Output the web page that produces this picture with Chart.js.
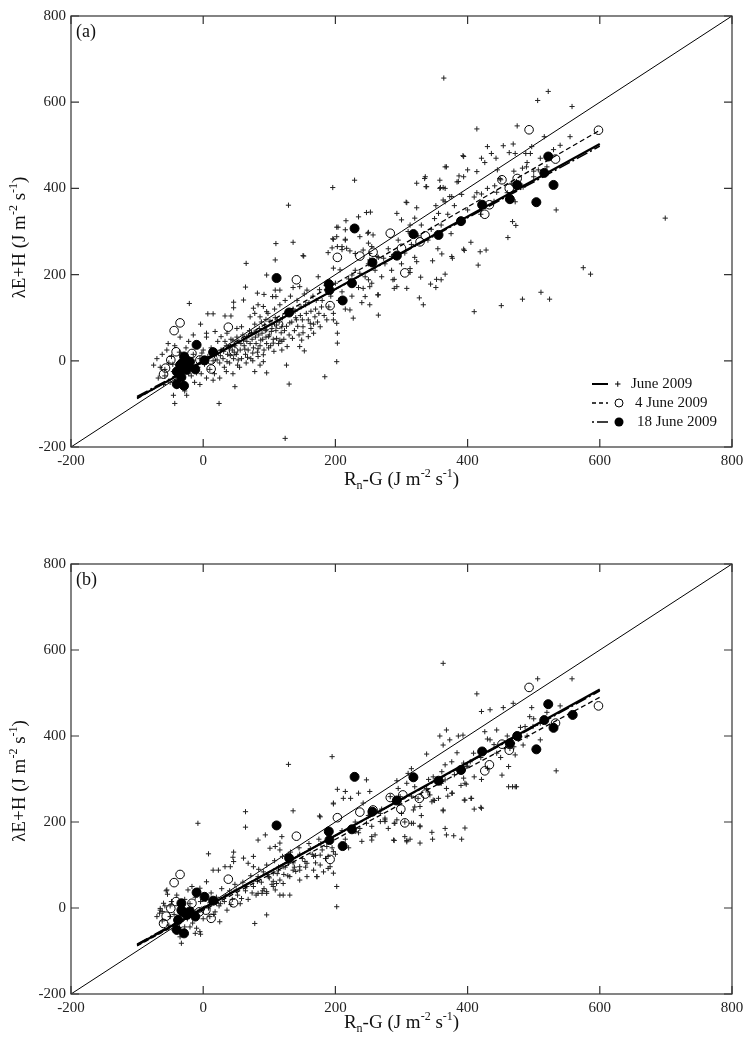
<!DOCTYPE html>
<html>
<head>
<meta charset="utf-8">
<script src="https://cdn.jsdelivr.net/npm/chart.js@4/dist/chart.umd.min.js"></script>
<style>
  body{ margin:0; background:#fff; }
  canvas{ position:absolute; left:0; }
  #cA{ top:0; }
  #cB{ top:520px; }
</style>
</head>
<body>
<canvas id="cA" width="755" height="520"></canvas>
<canvas id="cB" width="755" height="528"></canvas>
<script>
(function(){
  const FONT = '"Liberation Serif", "Times New Roman", serif';

  // axis ticks (both axes, both panels)
  const tickValues = [-200, 0, 200, 400, 600, 800];
  const oneToOne = [-200, 800];

  // regression lines: x range and y at the ends
  const fitX = [-100, 600];
  const fitJuneA = [-86, 503];
  const fit4A = [-88, 535];
  const fit18A = [-83, 498];
  const fitJuneB = [-86, 508];
  const fit4B = [-88, 490];
  const fit18B = [-84, 505];

  // panel (a): half-hourly June 2009 (plus)
  const juneA = [
    [364,656],[506,604],[522,625],[558,590],[414,538],[475,545],[516,520],[497,497],[454,499],[469,503],[430,497],[436,481],[443,470],[463,483],[472,481],[393,476],[421,470],[426,460],[488,481],[495,481],[368,450],[400,443],[414,439],[335,423],[337,404],[358,419],[359,402],[363,402],[387,429],[384,415],[376,381],[363,373],[391,386],[414,390],[421,387],[445,443],[449,423],[441,406],[444,391],[483,447],[489,450],[500,427],[507,443],[467,412],[474,416],[484,403],[472,369],[534,350],[468,323],[473,314],[461,286],[699,331],[419,253],[428,257],[394,259],[376,242],[361,248],
    [575,216],[586,201],[511,159],[524,143],[483,143],[451,128],[410,114],[416,222],[395,256],[405,275],[377,238],[366,201],[360,188],[353,189],[347,232],[344,178],[352,170],[327,146],[333,130],[329,194],[308,168],[289,168],[289,189],[313,214],[323,230],[264,153],[265,106],
    [196,402],[229,419],[129,361],[202,310],[216,325],[235,334],[247,344],[253,345],[197,282],[215,282],[250,298],[110,272],[136,275],[151,244],[189,251],[195,262],[210,258],[222,255],
    [204,310],[215,304],[202,288],[215,280],[210,265],[217,261],[237,288],[249,296],[257,292],[250,273],[255,265],[242,257],[293,342],[300,327],[307,368],[323,355],[320,331],[313,315],[352,360],[356,342],[366,369],[373,381],[386,416],[394,427],[394,474],[366,450],[358,400],[366,400],[336,427],[338,404],[308,367],[323,412],[230,249],[252,249],[263,242],[252,234],[273,238],[285,242],[207,211],[225,199],[237,203],[250,188],[242,168],[252,172],[245,149],[265,153],[252,130],[222,118],[227,99],[293,172],[287,188],[313,205],
    [152,243],[65,226],[109,234],[196,283],[203,265],[96,199],[64,171],[82,157],[92,154],[109,164],[116,164],[105,149],[110,149],[136,170],[157,164],[146,172],[174,195],[197,215],[-21,133],[-4,85],[7,109],[15,109],[46,136],[46,123],[33,104],[42,104],[61,141],[76,122],[83,130],[91,126],[96,114],[71,102],[78,110],[86,102],[95,96],[5,64],[18,68],[27,56],[36,64],[51,75],[58,79],[66,56],[73,64],[81,68],[89,64],[96,72],[104,75],[111,83],[119,79],[99,56],[106,41],[116,48],[119,25],[83,10],[91,-2],[86,-10],[78,-25],[96,-28],[126,-10],[130,-54],[48,-60],[24,-99],[-43,-99],[141,95],[151,79],[162,87],[169,102],[177,79],[187,95],[197,110],[202,87],[149,48],[159,56],[167,64],[146,33],[153,23],[184,-37],[202,-2],[203,41],[203,64],[124,-180],
    [-70,5],[-65,-15],[-62,15],[-58,-35],[-55,25],[-52,-5],[-50,-50],[-48,10],[-45,-25],[-43,35],[-40,-60],[-38,-10],[-36,20],[-33,-40],[-30,5],[-28,-70],[-26,30],[-24,-20],[-22,45],[-20,-5],[-18,-35],[-15,15],[-13,-50],[-10,40],[-8,-15],[-5,5],[-3,-30],[0,25],[2,-8],[5,-40],[7,10],[10,-20],[12,30],[15,0],[17,-30],[20,15],[22,45],[25,-5],[27,25],[30,5],[32,-15],[35,35],[37,15],[40,-5],[42,50],[44,25],[46,5],[48,35],[50,15],[52,-10],[54,45],[56,25],[58,5],[60,60],[62,35],[64,15],[66,45],[68,25],[70,70],[72,5],[74,50],[76,30],[78,85],[80,40],[82,20],[84,60],[86,35],[88,90],[90,50],[92,25],[94,70],[96,40],[98,110],[100,60],[102,35],[104,85],[106,50],[108,120],[110,70],[112,95],[114,40],[116,130],[118,65],[120,100],[122,50],[124,140],[126,80],[128,110],[130,60],[132,150],[134,90],[136,120],[138,70],[140,100],[142,140],[145,60],[148,125],[150,95],[153,155],[156,110],[160,135],[163,75],[166,150],[170,120],[173,90],[176,165],[180,140],[183,105],[186,175],[190,125],[193,150],[197,95],[200,180],[205,140],[210,160],[215,120],[220,190],[225,150],[230,210],[235,170],[240,135],[245,195],[250,225],[255,180],[260,210],[265,240],[270,195],[275,225],[280,260],[285,210],[290,240],[295,280],[300,225],[305,250],[310,300],[315,270],[320,240],[325,290],[330,315],[340,280],[345,305],[350,330],[355,260],[360,315],[370,340],[375,295],[380,360],[390,320],[400,350],[410,380],[420,340],[430,400],[440,370],[450,420],[460,390],[470,440],[480,410],[490,460],[500,440],[510,470],[520,450],[530,490],[540,500],[555,520],[-75,-10],[-68,-40],[-60,-55],[-53,40],[-45,-80],[-35,55],[-25,-80],[-15,60],[-5,-55],[5,55],[15,-45],[25,-40],[35,-25],[45,-30],[55,-15],[65,-5],[75,0],
    [21,2],[26,12],[31,22],[36,-2],[41,12],[47,20],[53,2],[57,40],[63,27],[67,8],[71,40],[75,18],[79,55],[83,28],[87,48],[91,14],[95,55],[99,30],[103,68],[107,22],[111,52],[115,90],[119,45],[123,70],[127,33],[131,88],[135,52],[139,115],[143,80],[147,105],[151,65],[155,130],[159,95],[163,115],[167,85],[171,140],[175,110],[179,125],[33,45],[39,30],[45,48],[51,55],[61,48],[69,58],[77,66],[85,75],[93,83],[101,92],[109,100],[-58,-20],[-46,-8],[-34,-25],[-22,-30],[-10,-28],[-2,18]
  ];
  // panel (a): 4 June 2009 (open circles)
  const open4A = [
    [493,536],[598,535],[533,468],[452,420],[475,423],[463,400],[433,362],[426,340],[283,296],[336,290],[328,276],[300,261],[257,252],[237,243],[203,240],[305,204],[141,188],[192,128],[38,78],[46,23],[12,2],[12,-19],[-35,88],[-44,70],[-41,21],[-49,2],[-57,-17],[-60,-31],[-17,17],[-5,2],[114,85]
  ];
  // panel (a): 18 June 2009 (filled circles)
  const filled18A = [
    [229,307],[318,294],[356,292],[390,324],[422,362],[475,408],[464,375],[504,368],[516,436],[522,474],[530,408],[293,244],[256,228],[225,180],[211,140],[111,192],[130,112],[190,178],[191,164],[-10,37],[15,20],[2,1],[-29,10],[-35,-10],[-25,-21],[-12,-20],[-40,-25],[-20,-2],[-40,-54],[-29,-58],[-32,-5],[-30,-15],[-36,-30],[-22,-12],[-27,3],[-33,-38]
  ];

  // panel (b)
  const juneB = [
    [195,352],[129,334],[-8,197],[64,224],[64,188],[136,226],[203,276],[197,242],[176,214],[8,126],[46,130],[45,118],[46,108],[76,120],[83,158],[94,170],[101,139],[109,143],[116,151],[119,166],[116,135],[15,88],[23,88],[33,96],[41,96],[61,116],[68,104],[76,96],[83,73],[91,84],[99,73],[106,81],[114,88],[121,96],[129,104],[136,88],[146,96],[157,104],[167,120],[177,123],[187,143],[89,34],[96,34],[116,30],[121,30],[111,57],[106,50],[96,-16],[78,-36],[25,-32],[-33,-82],[146,88],[157,73],[172,73],[182,84],[192,96],[197,81],[202,50],[202,3],[177,212],[5,61],[-5,46],[-17,50],[-23,42],[-55,42],[-60,11],[-65,-5],[-50,-20],[-20,-44],[-10,-47],[-5,-55],[-12,-59],[10,-20],[18,-9],[-5,-5],[20,11],
    [363,569],[558,533],[506,533],[430,393],[414,498],[338,358],[454,466],[469,476],[497,466],[421,457],[434,461],[394,337],[386,400],[368,414],[358,400],[393,402],[494,445],[487,422],[479,398],[499,422],[510,391],[484,379],[464,371],[472,356],[462,329],[452,309],[462,282],[472,282],[444,414],[426,410],[434,391],[444,360],[409,360],[404,340],[398,329],[394,302],[396,290],[406,255],[396,251],[421,299],[421,232],[410,230],[384,361],[376,340],[366,333],[373,391],[363,379],[361,317],[366,298],[368,278],[376,267],[346,247],[363,228],[356,255],[343,263],[341,299],[348,305],[338,278],[320,282],[325,255],[328,236],[318,228],[310,313],[315,324],[308,290],[295,278],[293,296],[298,259],[368,170],[379,168],[391,160],[396,186],[366,185],[346,176],[347,160],[328,189],[315,197],[305,166],[328,151],[197,244],[215,271],[212,255],[223,255],[235,267],[247,298],[252,271],[242,244],[257,228],[268,220],[275,209],[283,259],[293,205],[247,197],[237,185],[230,178],[255,166],[255,158],[288,158],[308,154],[313,160],[290,197],[318,197],[252,216],[534,319],
    [468,282],[474,282],[420,234],[395,251],[405,255],[363,226],[348,251],[377,267],[398,288],[328,191],[289,197],[289,157],[308,157],[268,201],[275,201],
    [-56,40],[-54,32],[-65,-1],[-66,-12],[-4,-61],[-45,-51],[-35,-67],[-28,-44],[131,30],[83,34],[96,38],[109,42],[121,57],[131,73],[146,65],[167,88],[177,100],[189,120],[197,131],[172,73],[189,92],
    [-70,-20],[-62,-30],[-58,5],[-52,-40],[-48,15],[-44,-15],[-40,30],[-36,-45],[-32,0],[-28,20],[-24,-25],[-20,10],[-16,-35],[-12,25],[-8,-10],[-4,15],[0,-25],[4,20],[8,0],[12,35],[16,-15],[20,25],[24,5],[28,45],[32,15],[36,-5],[40,40],[44,20],[48,55],[52,30],[56,10],[60,60],[64,40],[68,20],[72,75],[76,50],[80,30],[84,90],[88,60],[92,45],[96,100],[100,70],[104,55],[108,110],[112,80],[116,65],[120,120],[124,95],[128,75],[132,130],[136,105],[140,85],[145,140],[150,115],[155,95],[160,150],[165,125],[170,105],[175,160],[180,135],[185,115],[190,170],[195,140],[200,125],[210,180],[215,160],[220,140],[230,200],[235,175],[240,155],[250,215],[255,190],[260,170],[270,230],[275,205],[280,185],[290,245],[300,220],[305,200],[315,260],[320,235],[330,215],[340,270],[350,250],[360,290],[370,260],[380,310],[390,285],[400,330],[410,305],[420,350],[430,325],[440,380],[450,350],[460,400],[470,375],[480,420],[490,400],[500,440],[510,430],[520,455],[540,470],
    [26,10],[34,28],[42,8],[50,42],[58,22],[66,50],[74,35],[82,62],[90,40],[98,78],[106,62],[114,95],[122,78],[130,112],[138,95],[146,125],[154,108],[162,138],[170,122],[178,150],[-62,-8],[-50,5],[-38,-18],[-26,-5],[-14,-20],[-2,-2],[10,12]
  ];
  const open4B = [
    [493,513],[598,470],[533,430],[452,381],[463,367],[433,333],[426,319],[283,257],[336,265],[327,255],[302,263],[299,230],[257,228],[237,223],[203,210],[305,198],[141,167],[192,113],[38,67],[46,12],[-44,59],[-35,78],[-41,15],[-49,-1],[-56,-19],[-60,-36],[-17,11],[4,-5],[12,-24],[-6,-9]
  ];
  const filled18B = [
    [229,305],[318,304],[356,296],[390,321],[422,364],[464,383],[475,400],[504,369],[516,437],[522,474],[530,419],[559,449],[293,250],[256,224],[225,183],[211,144],[111,192],[130,116],[190,178],[191,158],[-10,36],[2,26],[15,17],[-33,-5],[-25,-16],[-12,-20],[-38,-28],[-40,-51],[-29,-59],[-33,11],[-30,-10],[-20,-8]
  ];

  const legendRows = ['June 2009', '4 June 2009', '18 June 2009'];

  const xTitle = [{t:'R'},{t:'n',sub:1},{t:'-G (J m'},{t:'-2',sup:1},{t:' s'},{t:'-1',sup:1},{t:')'}];
  const yTitle = [{t:'\u03BBE+H (J m'},{t:'-2',sup:1},{t:' s'},{t:'-1',sup:1},{t:')'}];

  const pts = list => list.map(([x,y]) => ({x, y}));
  const seg = (xs, ys) => xs.map((x,i) => ({x, y: ys[i]}));

  function richText(ctx, parts, x, y, size, rotate){
    const small = Math.round(size*0.62);
    ctx.save();
    ctx.translate(x, y);
    if(rotate) ctx.rotate(-Math.PI/2);
    let w = 0;
    parts.forEach(p => { ctx.font = ((p.sup||p.sub) ? small : size)+'px '+FONT; p.w = ctx.measureText(p.t).width; w += p.w; });
    let cx = -w/2;
    ctx.textAlign = 'left'; ctx.textBaseline = 'alphabetic'; ctx.fillStyle = '#111';
    const base = size*0.33;
    parts.forEach(p => {
      ctx.font = ((p.sup||p.sub) ? small : size)+'px '+FONT;
      const dy = p.sup ? -size*0.42 : p.sub ? size*0.22 : 0;
      ctx.fillText(p.t, cx, base+dy);
      cx += p.w;
    });
    ctx.restore();
  }

  function drawLegend(ctx){
    const ys = [384, 403, 422];
    const tx = [631, 635, 637];
    ctx.save();
    ctx.strokeStyle = '#000'; ctx.fillStyle = '#000';
    // June 2009: solid
    ctx.lineWidth = 2; ctx.setLineDash([]);
    ctx.beginPath(); ctx.moveTo(592, ys[0]); ctx.lineTo(608, ys[0]); ctx.stroke();
    // 4 June: dashed
    ctx.lineWidth = 1.3; ctx.setLineDash([4,3]);
    ctx.beginPath(); ctx.moveTo(592, ys[1]); ctx.lineTo(608, ys[1]); ctx.stroke();
    // 18 June: dash-dot
    ctx.lineWidth = 1.6; ctx.setLineDash([2,3,11,3]);
    ctx.beginPath(); ctx.moveTo(592, ys[2]); ctx.lineTo(608, ys[2]); ctx.stroke();
    ctx.setLineDash([]);
    // symbols
    ctx.lineWidth = 1;
    ctx.beginPath(); ctx.moveTo(615, ys[0]); ctx.lineTo(620.5, ys[0]); ctx.moveTo(617.75, ys[0]-2.75); ctx.lineTo(617.75, ys[0]+2.75); ctx.stroke();
    ctx.beginPath(); ctx.arc(619, ys[1], 4, 0, Math.PI*2); ctx.stroke();
    ctx.beginPath(); ctx.arc(619, ys[2], 4.5, 0, Math.PI*2); ctx.fill();
    ctx.font = '15px '+FONT; ctx.textBaseline = 'middle'; ctx.fillStyle = '#111';
    legendRows.forEach((t,i) => ctx.fillText(t, tx[i], ys[i]));
    ctx.restore();
  }

  const framePlugin = {
    id: 'frame',
    afterDatasetsDraw(chart, args, opts){
      const { ctx, chartArea: a, scales: { x, y } } = chart;
      ctx.save();
      ctx.strokeStyle = '#333'; ctx.lineWidth = 1.2;
      ctx.strokeRect(a.left, a.top, a.right-a.left, a.bottom-a.top);
      ctx.beginPath();
      tickValues.forEach(v => {
        const px = x.getPixelForValue(v), py = y.getPixelForValue(v);
        ctx.moveTo(px, a.bottom); ctx.lineTo(px, a.bottom-8);
        ctx.moveTo(px, a.top); ctx.lineTo(px, a.top+8);
        ctx.moveTo(a.left, py); ctx.lineTo(a.left+8, py);
        ctx.moveTo(a.right, py); ctx.lineTo(a.right-8, py);
      });
      ctx.stroke();
      ctx.font = '18px '+FONT; ctx.fillStyle = '#111'; ctx.textBaseline = 'middle'; ctx.textAlign = 'left';
      ctx.fillText(opts.label, a.left+5, a.top+16);
      richText(ctx, xTitle, (a.left+a.right)/2, a.bottom+opts.xGap, 19, false);
      richText(ctx, yTitle, 19, (a.top+a.bottom)/2+opts.yShift, 19, true);
      if(opts.legend) drawLegend(ctx);
      ctx.restore();
    }
  };

  function axis(fitSize){
    return {
      type: 'linear', min: -200, max: 800,
      afterBuildTicks: s => { s.ticks = tickValues.map(v => ({ value: v })); },
      ticks: { font: { family: FONT, size: 15 }, color: '#222', padding: 5 },
      grid: { display: false, drawTicks: false },
      border: { display: false },
      afterFit: fitSize
    };
  }

  function makePanel(id, cfg){
    new Chart(document.getElementById(id), {
      type: 'scatter',
      data: { datasets: [
        { data: seg(fitX, cfg.fitJune), showLine: true, borderColor: '#000', borderWidth: 2.2, pointRadius: 0 },
        { data: seg(fitX, cfg.fit4), showLine: true, borderColor: '#000', borderWidth: 1.3, borderDash: [5,3], pointRadius: 0 },
        { data: seg(fitX, cfg.fit18), showLine: true, borderColor: '#000', borderWidth: 1.6, borderDash: [12,3,2,3], pointRadius: 0 },
        { data: pts(cfg.filled), pointStyle: 'circle', pointRadius: 4.5, backgroundColor: '#000', borderColor: '#000', borderWidth: 1 },
        { data: pts(cfg.open), pointStyle: 'circle', pointRadius: 4.3, backgroundColor: 'rgba(255,255,255,0)', borderColor: '#000', borderWidth: 1 },
        { data: pts(cfg.plus), pointStyle: 'cross', pointRadius: 2.6, borderColor: '#222', borderWidth: 1 },
        { data: seg(oneToOne, oneToOne), showLine: true, borderColor: '#000', borderWidth: 1, pointRadius: 0 }
      ]},
      options: {
        responsive: false, animation: false, devicePixelRatio: 1, events: [],
        layout: { padding: { left: 0, right: 23, top: cfg.top, bottom: 0 } },
        scales: {
          x: axis(s => { s.height = cfg.xh; }),
          y: axis(s => { s.width = 71; })
        },
        plugins: {
          legend: { display: false }, tooltip: { enabled: false },
          frame: { label: cfg.label, xGap: cfg.xGap, yShift: cfg.yShift, legend: cfg.legend }
        }
      },
      plugins: [framePlugin]
    });
  }

  makePanel('cA', { label: '(a)', plus: juneA, open: open4A, filled: filled18A, fitJune: fitJuneA, fit4: fit4A, fit18: fit18A, top: 16, xh: 73, xGap: 32, yShift: 6, legend: true });
  makePanel('cB', { label: '(b)', plus: juneB, open: open4B, filled: filled18B, fitJune: fitJuneB, fit4: fit4B, fit18: fit18B, top: 44, xh: 54, xGap: 28, yShift: 2, legend: false });
})();
</script>
</body>
</html>
